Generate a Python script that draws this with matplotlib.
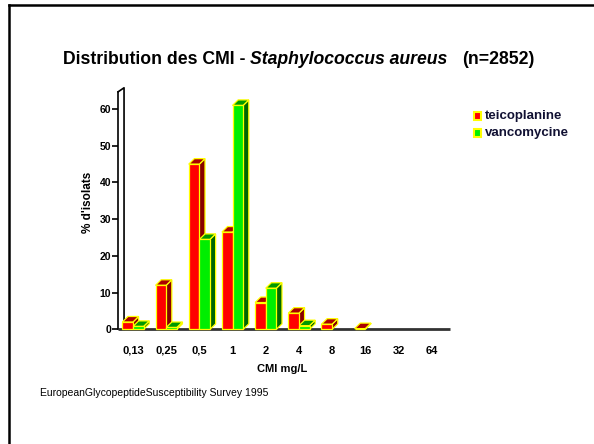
import matplotlib
matplotlib.use("Agg")
import matplotlib.pyplot as plt
from matplotlib.patches import Polygon
from matplotlib.lines import Line2D

# MIC classes (mg/L) and % of isolates
cmi = ['0,13', '0,25', '0,5', '1', '2', '4', '8', '16', '32', '64']
teicoplanine = [2, 12, 45, 26.5, 7.3, 4.4, 1.4, 0.2, 0, 0]
vancomycine = [0.8, 0.5, 24.5, 61, 11.2, 1, 0, 0, 0, 0]

plt.rcParams['font.family'] = ['Liberation Sans', 'DejaVu Sans']

fig = plt.figure(figsize=(5.94, 4.44), dpi=100)
fig.patch.set_facecolor('white')
ax = fig.add_axes([0.1848, 0.25, 0.581, 0.587])
ax.set_xlim(-0.7, 9.7)
ax.set_ylim(-1, 70)

w = 0.32
dx, dy = 0.17, 1.5  # 3D depth offset (data units)


def bar3d(x, h, face, side, top):
    if h <= 0:
        return
    ax.add_patch(Polygon([(x + w, 0), (x + w + dx, dy), (x + w + dx, h + dy), (x + w, h)],
                         closed=True, facecolor=side, edgecolor='#ffff00', lw=0.9, zorder=3))
    ax.add_patch(Polygon([(x, h), (x + dx, h + dy), (x + w + dx, h + dy), (x + w, h)],
                         closed=True, facecolor=top, edgecolor='#ffff00', lw=0.9, zorder=3))
    ax.bar(x, h, width=w, align='edge', color=face, edgecolor='#ffff00', lw=0.9, zorder=4)


for i in range(len(cmi)):
    bar3d(i - w, teicoplanine[i], '#ff0000', '#880000', '#aa0000')
    bar3d(i, vancomycine[i], '#00ee00', '#006600', '#009900')

# axes
for s in ['top', 'right', 'bottom']:
    ax.spines[s].set_visible(False)
ax.spines['left'].set_position(('data', -0.45))
ax.spines['left'].set_bounds(0, 64.7)
ax.spines['left'].set_linewidth(1.2)
ax.plot([-0.45, -0.27, -0.27], [64.7, 65.8, 0], color='black', lw=1.2, zorder=2)
ax.plot([-0.45, 9.55], [0, 0], color='#333333', lw=2, zorder=2, solid_capstyle='butt')

ax.set_yticks([0, 10, 20, 30, 40, 50, 60])
ax.tick_params(axis='y', length=4, width=1.2, labelsize=7.5, pad=1)
for lab in ax.get_yticklabels():
    lab.set_fontweight('bold')
ax.set_xticks(range(len(cmi)))
ax.set_xticklabels(cmi, fontsize=8, fontweight='bold')
ax.tick_params(axis='x', length=0, pad=9)
ax.set_xlabel('CMI mg/L', fontsize=8, fontweight='bold', labelpad=6)
ax.set_ylabel("% d'isolats", fontsize=8.5, fontweight='bold', labelpad=4)

# title in three pieces
ty = 1 - 59 / 444
fig.text(63 / 594, ty, 'Distribution des CMI -', fontsize=12.7, fontweight='bold', va='center')
fig.text(250 / 594, ty, 'Staphylococcus aureus', fontsize=12.7, fontweight='bold',
         style='italic', va='center')
fig.text(462 / 594, ty, '(n=2852)', fontsize=12.7, fontweight='bold', va='center')

# legend
for yy, lab, c in [(116, 'teicoplanine', '#ff0000'), (133, 'vancomycine', '#00ee00')]:
    fig.patches.append(plt.Rectangle((474 / 594, 1 - (yy + 4) / 444), 7 / 594, 8 / 444,
                                     transform=fig.transFigure, facecolor=c,
                                     edgecolor='#ffff00', lw=1.5))
    fig.text(485 / 594, 1 - yy / 444, lab, fontsize=9.5, fontweight='bold',
             color='#111133', va='center')

fig.text(40 / 594, 1 - 393 / 444, 'EuropeanGlycopeptideSusceptibility Survey 1995',
         fontsize=7.5, va='center')

# frame
fig.lines.append(Line2D([9 / 594, 1], [1 - 5 / 444, 1 - 5 / 444], transform=fig.transFigure,
                        color='black', lw=1.8))
fig.lines.append(Line2D([9 / 594, 9 / 594], [0, 1 - 5 / 444], transform=fig.transFigure,
                        color='black', lw=1.8))

fig.savefig('out.png', dpi=100)
